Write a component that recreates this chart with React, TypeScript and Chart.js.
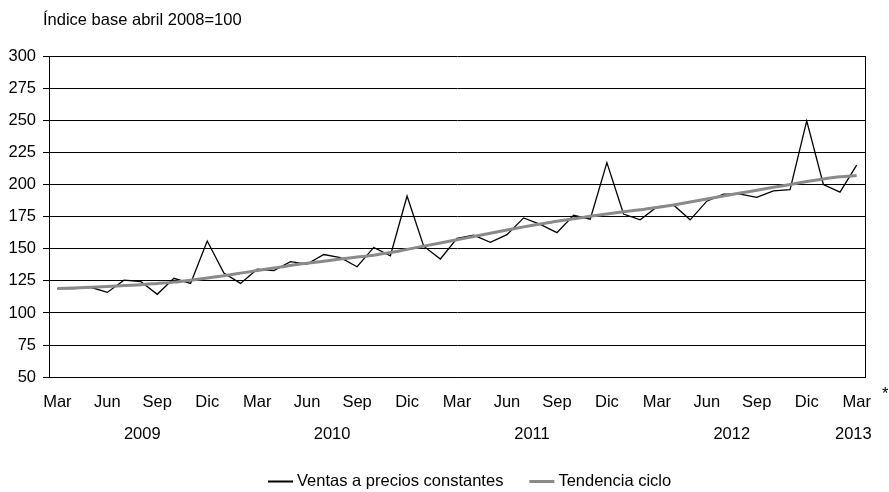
import React, { useEffect, useRef } from "react";
import { Chart, registerables } from "chart.js";

Chart.register(...registerables);

const FONT = '"Liberation Sans", Arial, Helvetica, sans-serif';
const FS = 16.5;

const titleText = "Índice base abril 2008=100";
const footnoteMark = "*";

const categories = [
  "Mar 2009", "Abr 2009", "May 2009", "Jun 2009", "Jul 2009", "Ago 2009", "Sep 2009", "Oct 2009", "Nov 2009", "Dic 2009",
  "Ene 2010", "Feb 2010", "Mar 2010", "Abr 2010", "May 2010", "Jun 2010", "Jul 2010", "Ago 2010", "Sep 2010", "Oct 2010", "Nov 2010", "Dic 2010",
  "Ene 2011", "Feb 2011", "Mar 2011", "Abr 2011", "May 2011", "Jun 2011", "Jul 2011", "Ago 2011", "Sep 2011", "Oct 2011", "Nov 2011", "Dic 2011",
  "Ene 2012", "Feb 2012", "Mar 2012", "Abr 2012", "May 2012", "Jun 2012", "Jul 2012", "Ago 2012", "Sep 2012", "Oct 2012", "Nov 2012", "Dic 2012",
  "Ene 2013", "Feb 2013", "Mar 2013",
];

const monthTickLabels = [
  "Mar", "", "", "Jun", "", "", "Sep", "", "", "Dic",
  "", "", "Mar", "", "", "Jun", "", "", "Sep", "", "", "Dic",
  "", "", "Mar", "", "", "Jun", "", "", "Sep", "", "", "Dic",
  "", "", "Mar", "", "", "Jun", "", "", "Sep", "", "", "Dic",
  "", "", "Mar",
];

const ventas = [
  119, 119, 120, 116, 125.5, 124.5, 114.5, 127, 123, 156,
  131, 123, 134, 133, 140, 138, 145.5, 143, 136, 151, 144.5, 191,
  152, 142, 158, 160.5, 155, 161, 174, 169, 162.5, 176, 173, 217,
  177, 172.5, 182.5, 184, 172.5, 187, 192.5, 192.5, 190, 195, 196, 249.5,
  200, 194, 215,
];

const tendencia = [
  119, 119.5, 120, 120.5, 121.3, 122, 123, 124, 125.5, 127.2,
  129, 131, 133, 135, 137, 138.7, 140.3, 142, 143.5, 145, 147, 149.5,
  152, 154.5, 157, 159.5, 162, 164.5, 167, 169.3, 171.3, 173.3, 175.3, 177,
  178.7, 180.3, 182, 184, 186.3, 188.7, 191, 193.3, 195.5, 197.8, 200, 202.3,
  204.3, 206, 207,
];

const yearLabels = ["2009", "2010", "2011", "2012", "2013"];
const yearPositions = [5.1, 16.5, 28.5, 40.5, 47.8];

const seriesNames = ["Ventas a precios constantes", "Tendencia ciclo"];
const seriesColors = ["#000000", "#8a8a8a"];
const seriesWidths = [1.3, 3];
const legendWidths = [2, 3];

const decorPlugin = {
  id: "decor",
  beforeDatasetsDraw(chart: any) {
    const { ctx, chartArea } = chart;
    ctx.save();
    ctx.strokeStyle = "#000";
    ctx.lineWidth = 1;
    const x = Math.round(chartArea.right) + 0.5;
    ctx.beginPath();
    ctx.moveTo(x, chartArea.top);
    ctx.lineTo(x, chartArea.bottom);
    ctx.stroke();
    ctx.restore();
  },
  afterDraw(chart: any) {
    const { ctx, chartArea } = chart;
    const xs = chart.scales.x;
    ctx.save();
    ctx.font = `${FS}px ${FONT}`;
    ctx.fillStyle = "#000";
    ctx.textAlign = "left";
    ctx.textBaseline = "middle";
    ctx.fillText(titleText, 43, 20);
    ctx.textBaseline = "alphabetic";
    ctx.fillText(footnoteMark, 882, 399);
    // year labels
    ctx.textAlign = "center";
    ctx.textBaseline = "middle";
    yearLabels.forEach((lab, i) => {
      ctx.fillText(lab, xs.getPixelForValue(yearPositions[i]), chartArea.bottom + 57);
    });
    // legend
    ctx.textAlign = "left";
    let x = 268;
    const y = 481;
    chart.data.datasets.forEach((ds: any, i: number) => {
      ctx.strokeStyle = ds.borderColor;
      ctx.lineWidth = legendWidths[i];
      ctx.beginPath();
      ctx.moveTo(x, y + 0.5);
      ctx.lineTo(x + 25, y + 0.5);
      ctx.stroke();
      x += 29;
      ctx.fillStyle = "#000";
      ctx.fillText(ds.label, x, y);
      x += ctx.measureText(ds.label).width + 26;
    });
    ctx.restore();
  },
};

export default function App() {
  const canvasRef = useRef<HTMLCanvasElement | null>(null);

  useEffect(() => {
    if (!canvasRef.current) return;
    Chart.defaults.font.family = FONT;
    const chart = new Chart(canvasRef.current, {
      type: "line",
      data: {
        labels: categories,
        datasets: [
          {
            label: seriesNames[0],
            data: ventas,
            borderColor: seriesColors[0],
            backgroundColor: seriesColors[0],
            borderWidth: seriesWidths[0],
            pointRadius: 0,
            tension: 0,
            order: 1,
          },
          {
            label: seriesNames[1],
            data: tendencia,
            borderColor: seriesColors[1],
            backgroundColor: seriesColors[1],
            borderWidth: seriesWidths[1],
            pointRadius: 0,
            cubicInterpolationMode: "monotone",
            order: 0,
          },
        ],
      },
      options: {
        animation: false,
        responsive: false,
        devicePixelRatio: 1,
        layout: { padding: { top: 56, left: 1.5, right: 24, bottom: 65 } },
        plugins: {
          legend: { display: false },
          title: { display: false },
          tooltip: { enabled: false },
        },
        scales: {
          x: {
            type: "category",
            position: "bottom",
            offset: true,
            grid: { display: false, drawTicks: false },
            border: { display: true, color: "#000", width: 1 },
            ticks: {
              autoSkip: false,
              maxRotation: 0,
              minRotation: 0,
              padding: 15,
              color: "#000",
              font: { size: FS, family: FONT },
              callback: (_v: any, i: number) => monthTickLabels[i],
            },
          },
          y: {
            min: 50,
            max: 300,
            grid: { color: "#000", lineWidth: 1, tickLength: 6, drawTicks: true },
            border: { display: true, color: "#000", width: 1 },
            ticks: {
              stepSize: 25,
              padding: 7,
              color: "#000",
              font: { size: FS, family: FONT },
            },
          },
        },
      },
      plugins: [decorPlugin],
    } as any);
    return () => chart.destroy();
  }, []);

  return (
    <div style={{ position: "absolute", left: 0, top: 0, width: 889, height: 492, background: "#fff" }}>
      <canvas ref={canvasRef} width={889} height={492} />
    </div>
  );
}
